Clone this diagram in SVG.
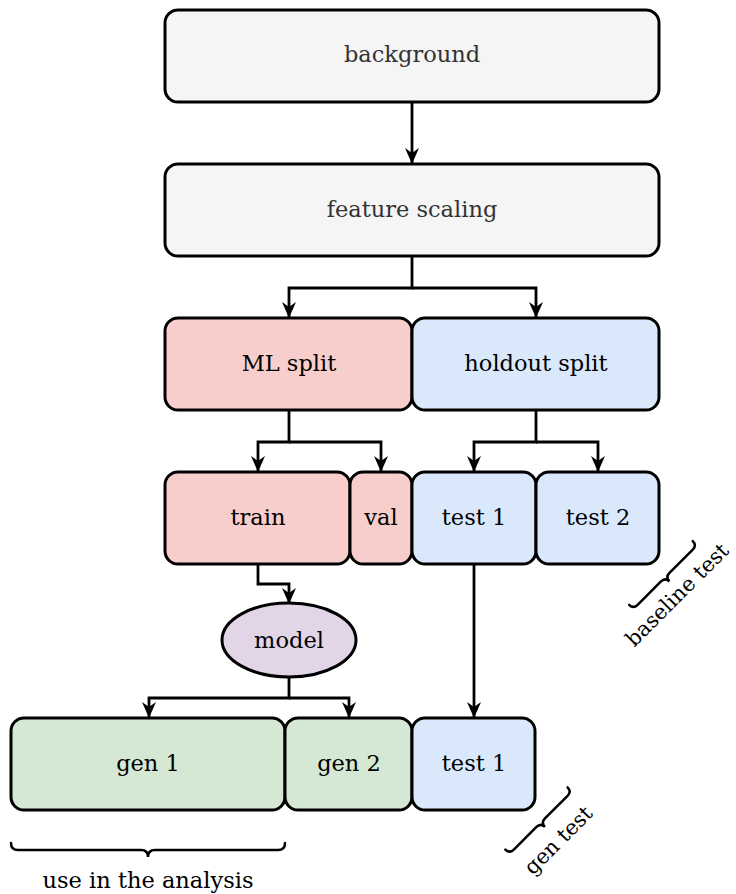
<svg xmlns="http://www.w3.org/2000/svg" width="736" height="894" viewBox="0 0 736 894">
  <defs>
    <marker id="arrow" viewBox="0 0 16 14" refX="15" refY="7" markerWidth="16" markerHeight="14" markerUnits="userSpaceOnUse" orient="auto">
      <path d="M0,0 L16,7 L0,14 L5,7 Z" fill="#000"/>
    </marker>
    <style>
      .box { stroke: #000; stroke-width: 3; }
      .grey { fill: #f5f5f5; }
      .red { fill: #f8cecc; }
      .blue { fill: #dae8fc; }
      .green { fill: #d5e8d4; }
      .purple { fill: #e1d5e7; }
      .lbl { font-family: "DejaVu Serif", "Liberation Serif", serif; font-size: 22.5px; text-anchor: middle; fill: #000; }
      .lbl.dim { fill: #333; }
      .lbl.side { font-size: 21px; }
      .edge { fill: none; stroke: #000; stroke-width: 2.8; marker-end: url(#arrow); }
      .brace { fill: none; stroke: #000; stroke-width: 2.5; stroke-linecap: round; }
    </style>
  </defs>
  <rect width="736" height="894" fill="#fff"/>

  <!-- connectors -->
  <g id="connectors">
    <path class="edge" d="M412,102 V163"/>
    <path class="edge" d="M412,256 V288 H289 V317"/>
    <path class="edge" d="M412,288 H536 V317"/>
    <path class="edge" d="M289,410 V442 H258 V471"/>
    <path class="edge" d="M289,442 H381 V471"/>
    <path class="edge" d="M536,410 V442 H474 V471"/>
    <path class="edge" d="M536,442 H598 V471"/>
    <path class="edge" d="M258,564 V584 H289 V603"/>
    <path class="edge" d="M289,677 V698 H149 V717"/>
    <path class="edge" d="M289,698 H349 V717"/>
    <path class="edge" d="M474,564 V717"/>
  </g>

  <!-- top stages -->
  <g id="background">
    <rect class="box grey" x="165" y="10" width="494" height="92" rx="13"/>
    <text class="lbl dim" x="412" y="62">background</text>
  </g>
  <g id="feature-scaling">
    <rect class="box grey" x="165" y="164" width="494" height="92" rx="13"/>
    <text class="lbl dim" x="412" y="217">feature scaling</text>
  </g>

  <!-- splits -->
  <g id="ml-split">
    <rect class="box red" x="165" y="318" width="247" height="92" rx="13"/>
    <text class="lbl" x="289" y="371">ML split</text>
  </g>
  <g id="holdout-split">
    <rect class="box blue" x="412" y="318" width="247" height="92" rx="13"/>
    <text class="lbl" x="536" y="371">holdout split</text>
  </g>

  <!-- partitions -->
  <g id="train">
    <rect class="box red" x="165" y="472" width="185" height="92" rx="13"/>
    <text class="lbl" x="258" y="525">train</text>
  </g>
  <g id="val">
    <rect class="box red" x="350" y="472" width="62" height="92" rx="13"/>
    <text class="lbl" x="381" y="525">val</text>
  </g>
  <g id="test1-holdout">
    <rect class="box blue" x="412" y="472" width="124" height="92" rx="13"/>
    <text class="lbl" x="474" y="525">test 1</text>
  </g>
  <g id="test2">
    <rect class="box blue" x="536" y="472" width="123" height="92" rx="13"/>
    <text class="lbl" x="598" y="525">test 2</text>
  </g>

  <!-- model -->
  <g id="model">
    <ellipse class="box purple" cx="289" cy="640" rx="67" ry="37"/>
    <text class="lbl" x="289" y="648">model</text>
  </g>

  <!-- generated sets -->
  <g id="gen1">
    <rect class="box green" x="11" y="718" width="274" height="92" rx="13"/>
    <text class="lbl" x="148" y="771">gen 1</text>
  </g>
  <g id="gen2">
    <rect class="box green" x="285" y="718" width="127" height="92" rx="13"/>
    <text class="lbl" x="349" y="771">gen 2</text>
  </g>
  <g id="test1-gen">
    <rect class="box blue" x="412" y="718" width="123" height="92" rx="13"/>
    <text class="lbl" x="474" y="771">test 1</text>
  </g>

  <!-- annotations -->
  <g id="analysis-brace">
    <path class="brace" d="M11,843 Q11,850 18,850 H141 Q148,850 148,857 Q148,850 155,850 H278 Q285,850 285,843"/>
    <text class="lbl" x="148" y="888">use in the analysis</text>
  </g>
  <g id="baseline-brace" transform="translate(664.5,576.5) rotate(-45)">
    <path class="brace" d="M-45,-5 Q-45,1 -39,1 H-6 Q0,1 0,7 Q0,1 6,1 H39 Q45,1 45,-5"/>
    <text class="lbl side" x="-4" y="29">baseline test</text>
  </g>
  <g id="gen-brace" transform="translate(540,822) rotate(-45)">
    <path class="brace" d="M-44,-5 Q-44,1 -38,1 H-6 Q0,1 0,7 Q0,1 6,1 H38 Q44,1 44,-5"/>
    <text class="lbl side" x="0" y="33">gen test</text>
  </g>
</svg>
